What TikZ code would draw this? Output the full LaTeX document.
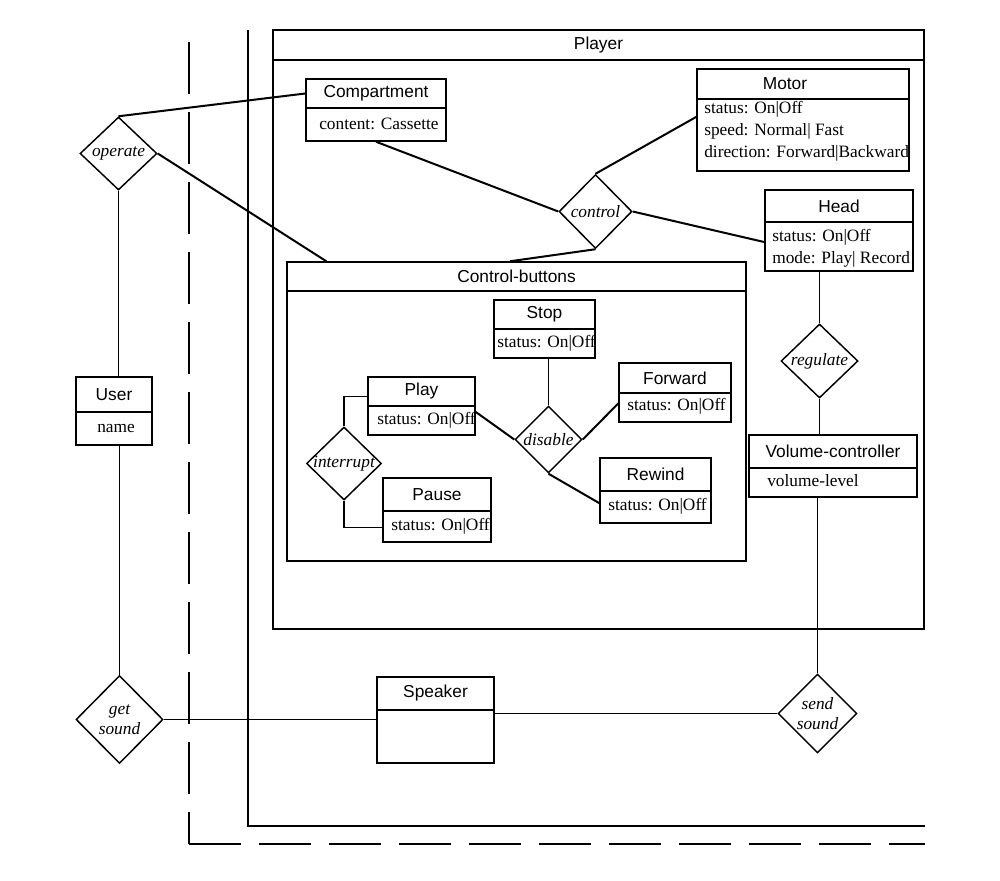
\documentclass[tikz,border=0pt]{standalone}
\usepackage{fontspec}
\setmainfont{Liberation Serif}
\setsansfont{Liberation Sans}
\usetikzlibrary{shapes.geometric,calc,fit}

\tikzset{
  box/.style={draw, line width=1.1pt, inner sep=0pt, fill=white},
  ttl/.style={font=\sffamily\fontsize{13pt}{16pt}\selectfont, inner sep=0pt},
  attr/.style={font=\fontsize{13pt}{16.5pt}\selectfont, inner sep=0pt, anchor=west, align=left},
  rel/.style={diamond, draw, line width=1.1pt, inner sep=0pt, fill=white},
  rlabel/.style={font=\itshape\fontsize{13pt}{15pt}\selectfont, inner sep=0pt, align=center},
  thick link/.style={line width=1.5pt},
  thin link/.style={line width=0.8pt},
  dashframe/.style={line width=1.1pt, dash pattern=on 39pt off 13.5pt},
  frame/.style={line width=1.1pt},
}

% name, x1, y1, x2, y2, y of divider, title
\newcommand{\umlhead}[7]{%
  \node[box, fit={(#2,#3) (#4,#5)}] (#1) {};
  \node[box, fit={(#2,#3) (#4,#6)}] (#1-t) {};
  \node[ttl] at ({(#2+#4)/2},{(#3+#6)/2}) {#7};
}

\begin{document}
\begin{tikzpicture}[x=0.75pt,y=-0.75pt]
\fill[white] (0,0) rectangle (1000,881);
\path[use as bounding box] (0,0) rectangle (1000,881);

% frames
\draw[dashframe] (189,42) -- (189,844);
\draw[dashframe] (189,844) -- (925,844);
\draw[frame] (248,30) -- (248,826) -- (925,826);

% classes
\umlhead{player}{273}{30}{924}{629}{60}{Player}
\umlhead{cb}{287}{262}{746}{561}{291}{Control-buttons}

\umlhead{comp}{306}{79}{446}{141}{108}{Compartment}
\node[attr] at (319,124) {content: Cassette};

\umlhead{motor}{697}{69}{909}{171}{99}{Motor\hspace*{27pt}}
\node[attr] at (704,131.5) {status: On|Off\\speed: Normal| Fast\\direction: Forward|Backward};

\umlhead{head}{765}{190}{913}{271}{222}{Head}
\node[attr] at (772,248.5) {status: On|Off\\mode: Play| Record};

\umlhead{stop}{494}{300}{595}{358}{329}{Stop}
\node[attr] at (497,343.5) {status: On|Off};

\umlhead{play}{368}{377}{475}{435}{406}{Play}
\node[attr] at (377,420.5) {status: On|Off};

\umlhead{forward}{619}{363}{731}{422}{393}{Forward}
\node[attr] at (627,406) {status: On|Off};

\umlhead{rewind}{600}{458}{711}{523}{491}{Rewind}
\node[attr] at (608,506) {status: On|Off};

\umlhead{pause}{383}{478}{491}{542}{511}{Pause}
\node[attr] at (391,526) {status: On|Off};

\umlhead{vc}{749}{435}{917}{497}{468}{Volume-controller}
\node[attr] at (767,481) {volume-level};

\umlhead{user}{76}{377}{152}{445}{412}{User}
\node[attr] at (97,428) {name};

\umlhead{speaker}{377}{677}{494}{763}{710}{Speaker}

% relationships
\node[rel, minimum width=57.75pt, minimum height=54.75pt, label={[rlabel]center:operate}] (operate) at (118.5,153.5) {};
\node[rel, minimum width=54.75pt, minimum height=55.5pt, label={[rlabel]center:control}] (control) at (595.5,211.5) {};
\node[rel, minimum width=50.25pt, minimum height=50.25pt, label={[rlabel]center:disable}] (disable) at (548.5,439.5) {};
\node[rel, minimum width=56.25pt, minimum height=54.75pt, label={[rlabel]center:interrupt}] (interrupt) at (344,463.5) {};
\node[rel, minimum width=57.75pt, minimum height=55.5pt, label={[rlabel]center:regulate}] (regulate) at (819.5,361) {};
\node[rel, minimum width=59.25pt, minimum height=59.25pt, label={[rlabel]center:{send\\sound}}] (sendsound) at (817.5,713.5) {};
\node[rel, minimum width=65.25pt, minimum height=66pt, label={[rlabel]center:{get\\sound}}] (getsound) at (119.5,719.5) {};

% links
\draw[thick link] (operate.north) -- (comp-t.west);
\draw[thick link] (operate.east) -- ($(cb.north west)!0.087!(cb.north east)$);
\draw[thin link] (operate.south) -- (operate.south |- user.north);
\draw[thin link] (getsound.north |- user.south) -- (getsound.north);
\draw[thin link] (getsound.east) -- (getsound.east -| speaker.west);
\draw[thin link] (sendsound.west -| speaker.east) -- (sendsound.west);
\draw[thin link] (sendsound.north) -- (sendsound.north |- vc.south);
\draw[thin link] (regulate.south) -- (regulate.south |- vc.north);
\draw[thin link] (regulate.north) -- (regulate.north |- head.south);
\draw[thick link] (comp.south) -- (control.west);
\draw[thick link] ($(motor.north west)!0.47!(motor.south west)$) -- (control.north);
\draw[thick link] (control.east) -- ($(head.north west)!0.64!(head.south west)$);
\draw[thick link] (control.south) -- ($(cb.north west)!0.486!(cb.north east)$);
\draw[thin link] (disable.north) -- (disable.north |- stop.south);
\draw[thick link] ($(play.north east)!0.6!(play.south east)$) -- (disable.west);
\draw[thick link] (disable.east) -- ($(forward.north west)!0.68!(forward.south west)$);
\draw[thick link] (disable.south) -- ($(rewind.north west)!0.69!(rewind.south west)$);
\draw[thin link] (interrupt.north) |- ($(play.north west)!0.34!(play.south west)$);
\draw[thin link] (interrupt.south) |- ($(pause.north west)!0.77!(pause.south west)$);
\end{tikzpicture}
\end{document}
